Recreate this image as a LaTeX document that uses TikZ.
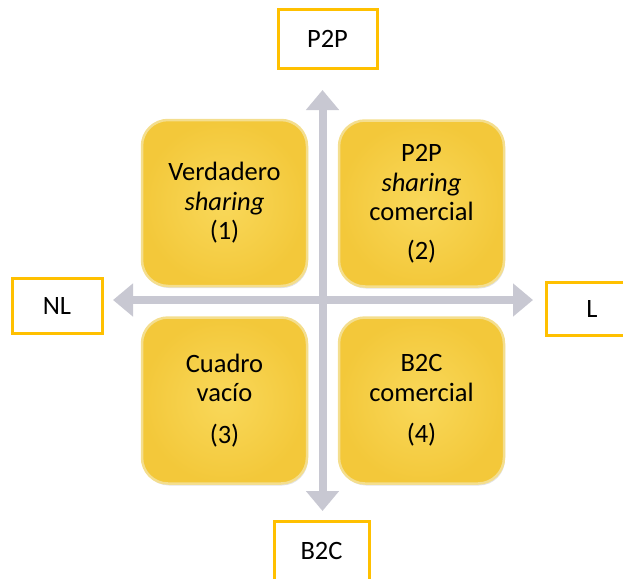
\documentclass[tikz,border=0pt]{standalone}
\usepackage{fontspec}
\setmainfont{Carlito}
\usetikzlibrary{arrows.meta,shadows}
\definecolor{labelgold}{HTML}{FFC000}
\definecolor{boxin}{HTML}{F9D85A}
\definecolor{boxout}{HTML}{F3C83A}
\definecolor{boxrim}{HTML}{F4DE8E}
\definecolor{axisgray}{HTML}{C8C8D2}
\tikzset{
  labelbox/.style={draw=labelgold, line width=3pt, fill=white, inner sep=0pt,
    font=\fontsize{26.5}{29}\selectfont},
  quadbox/.style={rounded corners=26pt, draw=boxrim, line width=2.5pt,
    inner color=boxin, outer color=boxout, minimum width=165pt, minimum height=166pt,
    align=center, inner sep=0pt, font=\fontsize{26.5}{29.5}\selectfont,
    drop shadow={opacity=0.22, shadow xshift=1pt, shadow yshift=-2pt}},
  axis/.style={draw=axisgray, line width=8pt,
    {Triangle[width=32pt,length=20pt]}-{Triangle[width=32pt,length=20pt]}}
}
\begin{document}
\begin{tikzpicture}[x=1pt,y=-1pt]
\useasboundingbox (0,0) rectangle (623,578);
\clip (0,0) rectangle (623,578);
% quadrant boxes
\node[quadbox] (q1) at (224.5,203) {Verdadero\\\textit{sharing}\\(1)};
\node[quadbox] (q2) at (421.5,203.5) {P2P\\\textit{sharing}\\comercial\\[9pt](2)};
\node[quadbox] (q3) at (224.5,400.5) {Cuadro\\vacío\\[12pt](3)};
\node[quadbox] (q4) at (421.5,400.5) {B2C\\comercial\\[12pt](4)};
% axes
\coordinate (ntip) at (322.5,90);
\coordinate (stip) at (322.5,511);
\coordinate (wtip) at (113,300);
\coordinate (etip) at (533,300);
\draw[axis] (wtip) -- (etip);
\draw[axis] (stip) -- (ntip);
% axis labels
\node[labelbox, minimum width=99pt, minimum height=58pt] (p2p) at (327.5,39) {P2P};
\node[labelbox, minimum width=90pt, minimum height=55pt] (nl) at (57,305.5) {NL};
\node[labelbox, minimum width=92pt, minimum height=53pt] (l) at (592,308.5) {L};
\node[labelbox, minimum width=95pt, minimum height=60pt] (b2c) at (321.5,551) {B2C};
\end{tikzpicture}
\end{document}
